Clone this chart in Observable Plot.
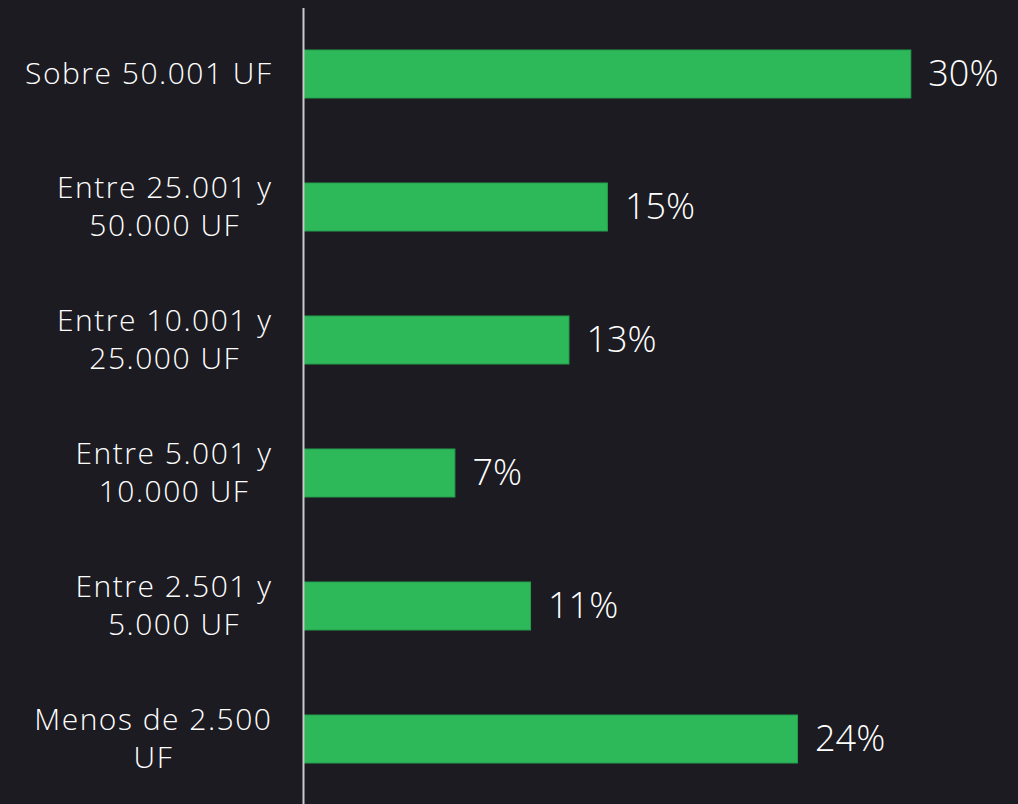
<!DOCTYPE html>
<html>
<head>
<meta charset="utf-8">
<script src="https://cdn.jsdelivr.net/npm/d3@7"></script>
<script src="https://cdn.jsdelivr.net/npm/@observablehq/plot@0.6"></script>
<style>
  html, body { margin: 0; padding: 0; background: #1c1b21; }
  #chart svg { display: block; }
</style>
</head>
<body>
<div id="chart"></div>
<script>
const categories = [
  "Sobre 50.001 UF",
  "Entre 25.001 y\n50.000 UF",
  "Entre 10.001 y\n25.000 UF",
  "Entre 5.001 y\n10.000 UF",
  "Entre 2.501 y\n5.000 UF",
  "Menos de 2.500\nUF"
];
const values = [30, 15, 13.1, 7.46, 11.2, 24.4];
const valueLabels = ["30%", "15%", "13%", "7%", "11%", "24%"];

const data = categories.map((c, i) => ({category: c, value: values[i], label: valueLabels[i]}));

const bg = "#1c1b21";
const green = "#2db85a";
const font = "'Open Sans', sans-serif";

const chart = Plot.plot({
  width: 1018,
  height: 804,
  marginLeft: 304,
  marginRight: 0,
  marginTop: 8,
  marginBottom: 0,
  style: {background: bg, color: "#ffffff", fontFamily: font},
  x: {domain: [0, 35.3], axis: null},
  y: {domain: categories, paddingInner: 0.64, paddingOuter: 0.3, axis: null},
  marks: [
    Plot.barX(data, {x: "value", y: "category", fill: green, stroke: "#24a04d", strokeWidth: 1}),
    Plot.ruleX([0], {stroke: "#c9c9cc", strokeWidth: 2, dx: -1}),
    Plot.text(data, {x: "value", y: "category", text: "label", textAnchor: "start", dx: 17,
      fill: "#ffffff", fontSize: 36, fontFamily: font, fontWeight: 300, letterSpacing: 1}),
    Plot.text(data, {x: 0, y: "category", text: "category", textAnchor: "middle", dy: -3,
      fill: "#ffffff", fontSize: 30, fontFamily: font, fontWeight: 300, lineHeight: 1.29, className: "ylabels"})
  ]
});

document.getElementById("chart").appendChild(chart);

// center multi-line labels, right edge of block aligned near the axis
const rightEdge = 272;
chart.querySelectorAll(".ylabels text").forEach(t => {
  t.style.letterSpacing = "1.5px";
  const w = t.getBBox().width;
  const tr = t.getAttribute("transform") || "";
  const m = tr.match(/translate\(([-\d.]+),\s*([-\d.]+)\)/);
  const y = m ? +m[2] : 0;
  t.setAttribute("transform", `translate(${rightEdge - w / 2},${y})`);
});
</script>
</body>
</html>
